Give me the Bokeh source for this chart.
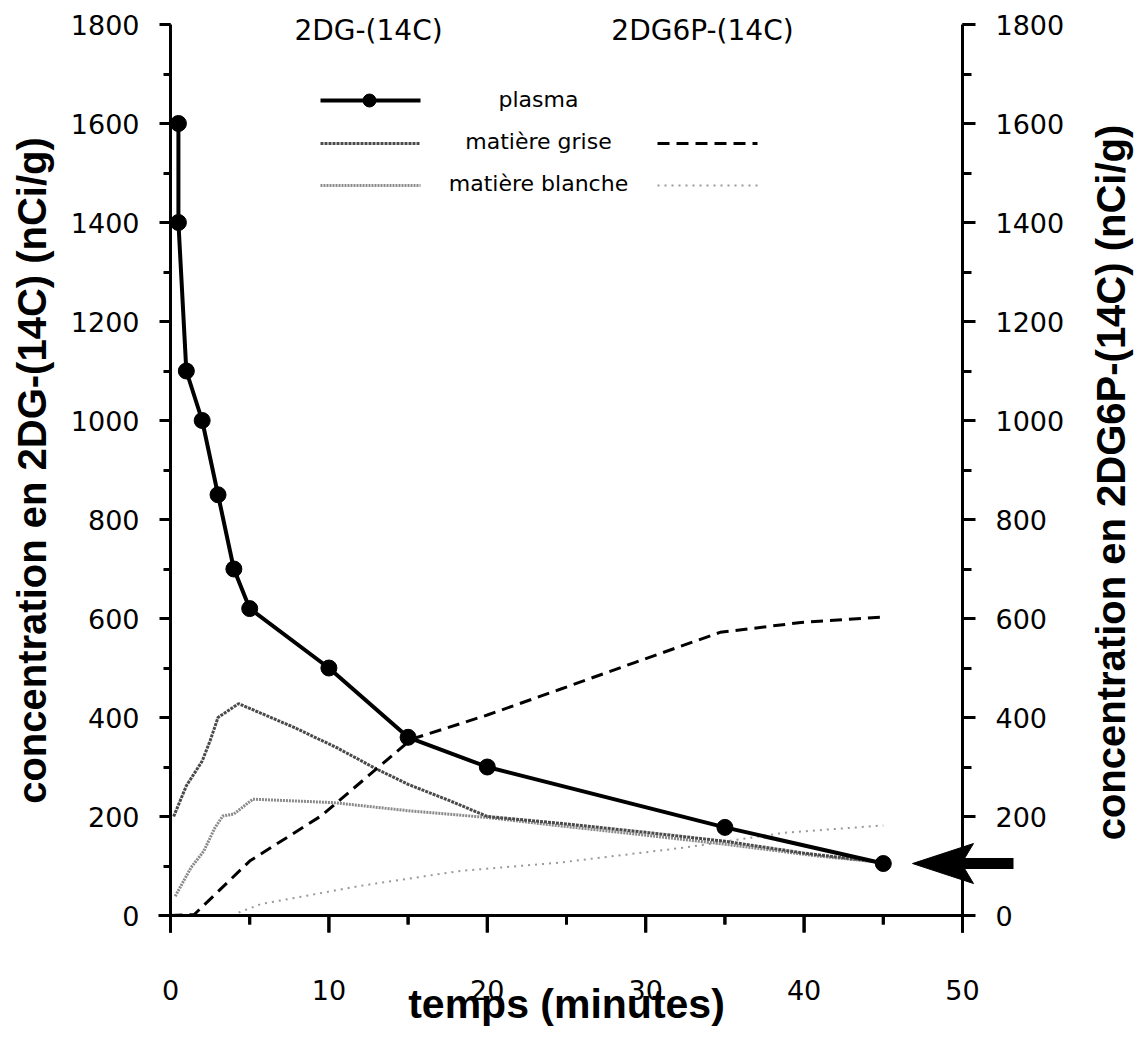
import math
from bokeh.plotting import figure
from bokeh.models import (LinearAxis, SingleIntervalTicker, FixedTicker, Label, Range1d,
                          Whisker, ColumnDataSource)
from bokeh.embed import file_html
from bokeh.resources import INLINE

# ---------------- data ----------------
plasma_t = [0.5, 0.5, 1, 2, 3, 4, 5, 10, 15, 20, 35, 45]
plasma_v = [1600, 1400, 1100, 1000, 850, 700, 620, 500, 360, 300, 178, 105]

grise_2dg_t = [0.2, 1, 2, 2.5, 3, 4.3, 7.8, 10.5, 13, 15, 17.7, 20, 25, 30, 35, 40, 45]
grise_2dg_v = [200, 262, 312, 353, 400, 428, 380, 339, 296, 265, 231, 200, 185, 168, 150, 126, 107]

blanche_2dg_t = [0.3, 1.3, 2.1, 2.8, 3.3, 4, 5.2, 10.3, 15.2, 20, 24.6, 29.5, 35, 40.9, 45]
blanche_2dg_v = [39, 97, 130, 177, 201, 205, 235, 228, 211, 198, 181, 164, 144, 120, 107]

grise_2dg6p_t = [0, 1.5, 5, 9.5, 13, 15.2, 20, 24.6, 29.3, 34.7, 39.8, 45]
grise_2dg6p_v = [0, 2, 110, 201, 296, 356, 405, 457, 511, 572, 592, 603]

blanche_2dg6p_t = [4.3, 5.7, 12, 18.3, 24.6, 32.4, 38.7, 45]
blanche_2dg6p_v = [6, 23, 60, 90, 107, 137, 167, 182]

x_ticks = [0, 10, 20, 30, 40, 50]
x_minor_ticks = [5, 15, 25, 35, 45]

legend_labels = ["plasma", "matière grise", "matière blanche"]
col_headers = ["2DG-(14C)", "2DG6P-(14C)"]
x_title = "temps (minutes)"
y_title_left = "concentration en 2DG-(14C) (nCi/g)"
y_title_right = "concentration en 2DG6P-(14C) (nCi/g)"

X_MAX = 50
Y_MAX = 1800

# ---------------- layout (pixels) ----------------
W, H = 1139, 1040
X0_PX = 170               # x = 0
X50_PX = 962              # x = 50
Y0_PX = 915               # y = 0
Y1800_PX = 24             # y = 1800
px_per_x = (X50_PX - X0_PX) / X_MAX
px_per_y = (Y0_PX - Y1800_PX) / Y_MAX


def dx(px):
    return (px - X0_PX) / px_per_x


def dy(py):
    return (Y0_PX - py) / px_per_y


# ---------------- styles ----------------
TICK_FONT = "DejaVu Sans"
TITLE_FONT = "Liberation Sans"
plasma_style = dict(line_color="black", line_width=4)
grise_style = dict(line_color="#4a4a4a", line_width=3, line_dash="3 1")
blanche_style = dict(line_color="#8a8a8a", line_width=3, line_dash="2 1")
grise6p_style = dict(line_color="black", line_width=3, line_dash="12 7")
blanche6p_style = dict(line_color="#999999", line_width=2, line_dash="2 5")

# the frame covers the whole canvas; the axes sit at fixed data locations
p = figure(width=W, height=H, x_range=Range1d(dx(0), dx(W)), y_range=Range1d(dy(H), dy(0)),
           output_backend="svg", toolbar_location=None,
           min_border_left=0, min_border_right=0, min_border_top=0, min_border_bottom=0)
p.grid.visible = False
p.outline_line_color = None
p.xaxis.visible = False
p.yaxis.visible = False


def style_axis(ax, major_out, minor_out, standoff=20):
    ax.axis_line_width = 3
    ax.axis_line_color = "black"
    ax.major_tick_line_width = 3
    ax.major_tick_line_color = "black"
    ax.minor_tick_line_width = 3
    ax.minor_tick_line_color = "black"
    ax.major_tick_out = major_out
    ax.major_tick_in = 0
    ax.minor_tick_out = minor_out
    ax.minor_tick_in = 0
    ax.major_label_text_font = TICK_FONT
    ax.major_label_text_font_size = "27px"
    ax.major_label_text_color = "black"
    ax.major_label_standoff = standoff
    try:
        ax.background_fill_color = None
    except Exception:
        pass


MAJOR_TICK_PX = 17
MINOR_TICK_PX = 9
TICK_HALF_W = 1.5 / px_per_x

# time axis: labels from the axis, tick marks drawn from the same tick lists
xaxis = LinearAxis(ticker=FixedTicker(ticks=x_ticks, minor_ticks=x_minor_ticks), fixed_location=0)
style_axis(xaxis, 0, 0, standoff=64)
xaxis.axis_line_color = None
p.add_layout(xaxis, "below")
p.line([dx(158), dx(972)], [0, 0], line_color="black", line_width=3, level="overlay")

major_low = dy(Y0_PX + MAJOR_TICK_PX)
minor_low = dy(Y0_PX + MINOR_TICK_PX)

# tick marks as filled bars ...
p.quad(left=[t - TICK_HALF_W for t in x_ticks], right=[t + TICK_HALF_W for t in x_ticks],
       bottom=[major_low] * len(x_ticks), top=[0] * len(x_ticks),
       fill_color="black", line_color=None, level="overlay")
p.quad(left=[t - TICK_HALF_W for t in x_minor_ticks], right=[t + TICK_HALF_W for t in x_minor_ticks],
       bottom=[minor_low] * len(x_minor_ticks), top=[0] * len(x_minor_ticks),
       fill_color="black", line_color=None, level="overlay")
# ... and as whiskers
major_src = ColumnDataSource(dict(base=x_ticks, lower=[major_low] * len(x_ticks),
                                  upper=[0] * len(x_ticks)))
minor_src = ColumnDataSource(dict(base=x_minor_ticks, lower=[minor_low] * len(x_minor_ticks),
                                  upper=[0] * len(x_minor_ticks)))
for src in (major_src, minor_src):
    p.add_layout(Whisker(source=src, base="base", lower="lower", upper="upper",
                         dimension="height", upper_head=None, lower_head=None,
                         line_color="black", line_width=3, level="overlay"))

# vertical axes: their lines run down to the foot of the time-axis ticks, as in the original
yleft = LinearAxis(ticker=SingleIntervalTicker(interval=200, num_minor_ticks=2),
                   bounds=(major_low, Y_MAX), fixed_location=0)
style_axis(yleft, 11, 7)
p.add_layout(yleft, "left")

yright = LinearAxis(ticker=SingleIntervalTicker(interval=200, num_minor_ticks=2),
                    bounds=(major_low, Y_MAX), fixed_location=X_MAX)
style_axis(yright, 13, 9)
p.add_layout(yright, "right")

# ---------------- series ----------------
p.line(blanche_2dg6p_t, blanche_2dg6p_v, **blanche6p_style)
p.line(blanche_2dg_t, blanche_2dg_v, **blanche_style)
p.line(grise_2dg_t, grise_2dg_v, **grise_style)
p.line(grise_2dg6p_t, grise_2dg6p_v, **grise6p_style)
p.line(plasma_t, plasma_v, **plasma_style)
p.scatter(plasma_t, plasma_v, size=16, fill_color="black", line_color="black")

# ---------------- custom legend ----------------
lg_rows = [dy(100), dy(143), dy(185)]
lg_x0, lg_x1 = dx(320), dx(420)
lg6_x0, lg6_x1 = dx(657), dx(757)

p.line([lg_x0, lg_x1], [lg_rows[0]] * 2, **plasma_style)
p.scatter([dx(369)], [lg_rows[0]], size=13, fill_color="black", line_color="black")
p.line([lg_x0, lg_x1], [lg_rows[1]] * 2, **grise_style)
p.line([lg_x0, lg_x1], [lg_rows[2]] * 2, **blanche_style)
p.line([lg6_x0, lg6_x1], [lg_rows[1]] * 2, **grise6p_style)
p.line([lg6_x0, lg6_x1], [lg_rows[2]] * 2, **blanche6p_style)

for lab, yy in zip(legend_labels, [dy(99), dy(141), dy(183)]):
    p.add_layout(Label(x=dx(538), y=yy, text=lab, text_align="center", text_baseline="middle",
                       text_font=TICK_FONT, text_font_size="22px", text_color="black"))

for hdr, hx in zip(col_headers, [dx(368), dx(702)]):
    p.add_layout(Label(x=hx, y=dy(30), text=hdr, text_align="center", text_baseline="middle",
                       text_font=TICK_FONT, text_font_size="28px", text_color="black"))

# ---------------- axis titles ----------------
title_kw = dict(text_font=TITLE_FONT, text_font_style="bold", text_color="black",
                text_align="center", text_baseline="middle")
p.add_layout(Label(x=X_MAX / 2, y=dy(1003), text=x_title, text_font_size="41px", **title_kw))
p.add_layout(Label(x=dx(31), y=dy(470), text=y_title_left, angle=math.pi / 2,
                   text_font_size="40px", **title_kw))
p.add_layout(Label(x=dx(1110), y=dy(482), text=y_title_right, angle=math.pi / 2,
                   text_font_size="40px", **title_kw))

# ---------------- arrow pointing at the final plasma value ----------------
yv = plasma_v[-1]
yv_px = Y0_PX - yv * px_per_y
tip_px = 912
head_xs = [dx(tip_px), dx(tip_px + 61), dx(tip_px + 49), dx(tip_px + 61)]
head_ys = [yv, dy(yv_px - 20), yv, dy(yv_px + 20)]
p.patch(head_xs, head_ys, fill_color="black", line_color="black", line_width=1)
p.line([dx(tip_px + 40), dx(1013)], [yv, yv], line_color="black", line_width=11)

open("out.html", "w").write(file_html(p, INLINE))
